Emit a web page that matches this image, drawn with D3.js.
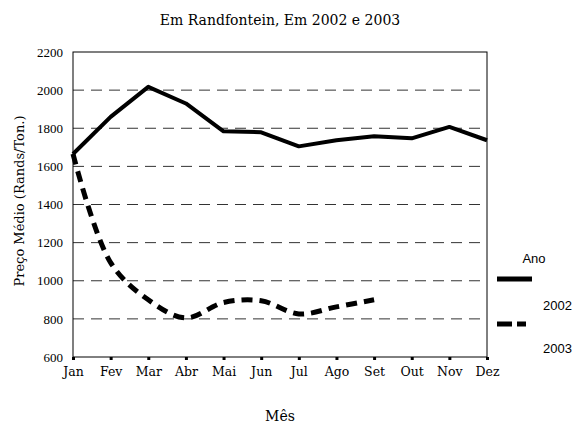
<!DOCTYPE html>
<html>
<head>
<meta charset="utf-8">
<script src="https://cdn.jsdelivr.net/npm/d3@7"></script>
<style>
  body { margin: 0; background: #fff; }
  svg text { fill: #000; }
  .serif { font-family: "DejaVu Serif", serif; }
  .narrow { font-family: "Liberation Serif", serif; }
  .sans { font-family: "Liberation Sans", Arial, sans-serif; }
</style>
</head>
<body>
<div class="result"></div>
<script>
const months = ['Jan', 'Fev', 'Mar', 'Abr', 'Mai', 'Jun', 'Jul', 'Ago', 'Set', 'Out', 'Nov', 'Dez'];
const values2002 = [1665, 1860, 2017, 1930, 1784, 1779, 1705, 1737, 1758, 1747, 1807, 1737];
const values2003 = [1665, 1095, 900, 805, 886, 895, 826, 863, 900];
const yTicks = [600, 800, 1000, 1200, 1400, 1600, 1800, 2000, 2200];
const gridValues = [800, 1000, 1200, 1400, 1600, 1800, 2000];

const w = 573;
const h = 425;
const plotLeft = 73, plotRight = 487, plotTop = 52, plotBottom = 357;

const svg = d3.select('.result')
  .append('svg')
  .attr('width', w)
  .attr('height', h);

const x = d3.scalePoint().domain(months).range([plotLeft, plotRight]);
const y = d3.scaleLinear().domain([600, 2200]).range([plotBottom, plotTop]);

// Title
svg.append('text')
  .attr('class', 'serif')
  .attr('x', 280).attr('y', 25)
  .attr('text-anchor', 'middle')
  .attr('font-size', 14)
  .text('Em Randfontein, Em 2002 e 2003');

// Dashed grid lines
svg.append('g')
  .selectAll('line')
  .data(gridValues)
  .enter()
  .append('line')
  .attr('x1', plotLeft).attr('x2', plotRight)
  .attr('y1', d => y(d)).attr('y2', d => y(d))
  .attr('stroke', '#333')
  .attr('stroke-width', 1)
  .attr('stroke-dasharray', '11,7');

// Frame
svg.append('rect')
  .attr('x', plotLeft).attr('y', plotTop)
  .attr('width', plotRight - plotLeft).attr('height', plotBottom - plotTop)
  .attr('fill', 'none')
  .attr('stroke', '#000')
  .attr('stroke-width', 1);

// Y axis
const yAxis = svg.append('g')
  .attr('transform', 'translate(' + plotLeft + ',0)')
  .call(d3.axisLeft(y).tickValues(yTicks).tickSize(0).tickPadding(10).tickFormat(d3.format('d')));
yAxis.select('.domain').remove();
yAxis.attr('font-family', null);
yAxis.selectAll('text').attr('class', 'narrow').attr('font-size', 13);

// X axis
const xAxis = svg.append('g')
  .attr('transform', 'translate(0,' + plotBottom + ')')
  .call(d3.axisBottom(x).tickSize(3).tickPadding(7));
xAxis.select('.domain').remove();
xAxis.attr('font-family', null);
xAxis.selectAll('line').attr('stroke-width', 3);
xAxis.selectAll('text').attr('class', 'serif').attr('font-size', 12.5);

// Axis titles
svg.append('text')
  .attr('class', 'serif')
  .attr('transform', 'translate(24,' + 201 + ') rotate(-90)')
  .attr('text-anchor', 'middle')
  .attr('font-size', 13)
  .text('Preço Médio (Rands/Ton.)');

svg.append('text')
  .attr('class', 'serif')
  .attr('x', 280).attr('y', 421)
  .attr('text-anchor', 'middle')
  .attr('font-size', 14)
  .text('Mês');

// Lines
const line2002 = d3.line()
  .x((d, i) => x(months[i]))
  .y(d => y(d));

const line2003 = d3.line()
  .x((d, i) => x(months[i]))
  .y(d => y(d))
  .curve(d3.curveCatmullRom.alpha(0.5));

svg.append('path')
  .datum(values2002)
  .attr('fill', 'none')
  .attr('stroke', '#000')
  .attr('stroke-width', 4)
  .attr('stroke-linejoin', 'round')
  .attr('d', line2002);

svg.append('path')
  .datum(values2003)
  .attr('fill', 'none')
  .attr('stroke', '#000')
  .attr('stroke-width', 5)
  .attr('stroke-dasharray', '11,7')
  .attr('d', line2003);

// Legend
svg.append('text')
  .attr('class', 'sans')
  .attr('x', 534).attr('y', 263)
  .attr('text-anchor', 'middle')
  .attr('font-size', 13)
  .text('Ano');

svg.append('line')
  .attr('x1', 497).attr('x2', 532)
  .attr('y1', 279).attr('y2', 279)
  .attr('stroke', '#000').attr('stroke-width', 5);

svg.append('text')
  .attr('class', 'sans')
  .attr('x', 543).attr('y', 310)
  .attr('font-size', 13)
  .text('2002');

svg.append('line')
  .attr('x1', 497).attr('x2', 526)
  .attr('y1', 324).attr('y2', 324)
  .attr('stroke', '#000').attr('stroke-width', 5)
  .attr('stroke-dasharray', '15,5');

svg.append('text')
  .attr('class', 'sans')
  .attr('x', 543).attr('y', 353)
  .attr('font-size', 13)
  .text('2003');
</script>
</body>
</html>
